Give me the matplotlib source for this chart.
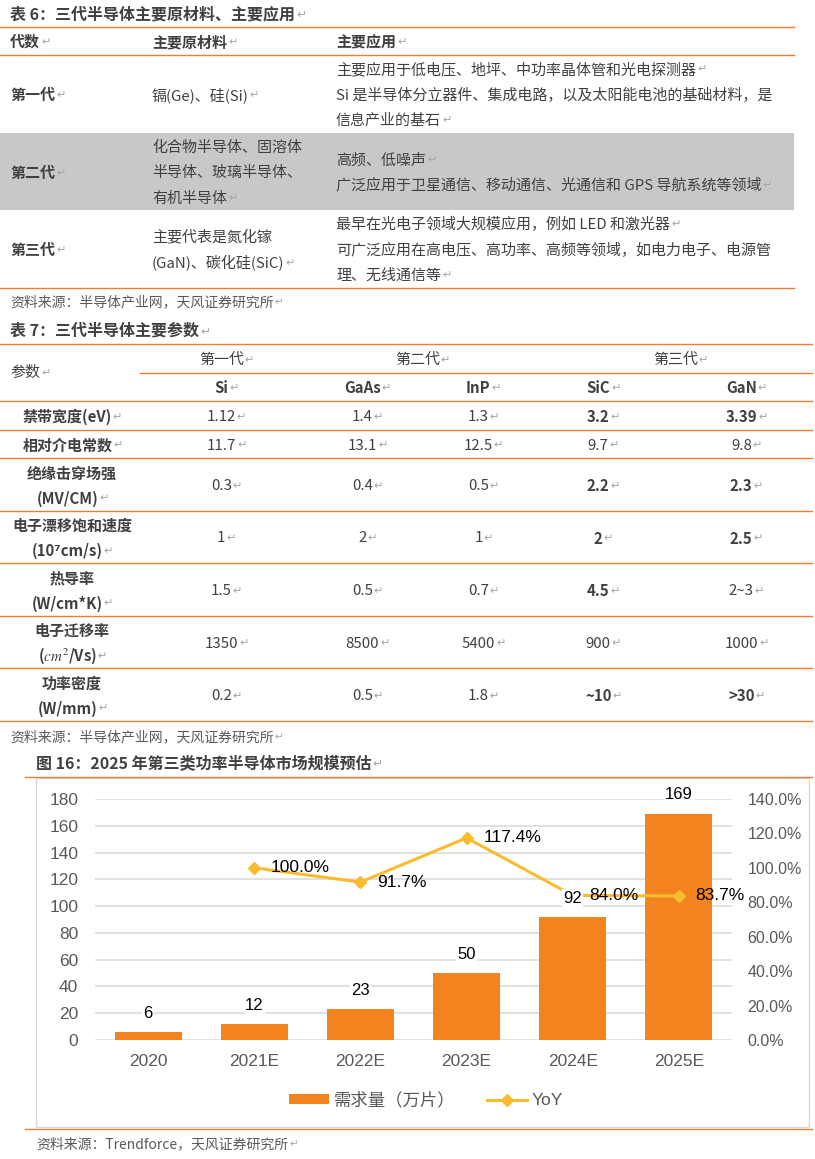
import matplotlib
matplotlib.use("Agg")
import matplotlib.pyplot as plt
import numpy as np
from matplotlib.transforms import Affine2D
from matplotlib.patches import Rectangle
from matplotlib.lines import Line2D

plt.rcParams['font.family'] = ['Noto Sans CJK SC', 'DejaVu Sans']
plt.rcParams['mathtext.fontset'] = 'stix'

# ---- table 6 ----
t6_title = "表 6：三代半导体主要原材料、主要应用↵"
t6_header = ["代数↵", "主要原材料↵", "主要应用↵"]
t6_gen = ["第一代↵", "第二代↵", "第三代↵"]
t6_material = [
    ["镉(Ge)、硅(Si)↵"],
    ["化合物半导体、固溶体", "半导体、玻璃半导体、", "有机半导体↵"],
    ["主要代表是氮化镓", "(GaN)、碳化硅(SiC)↵"],
]
t6_use = [
    ["主要应用于低电压、地坪、中功率晶体管和光电探测器↵",
     "Si 是半导体分立器件、集成电路，以及太阳能电池的基础材料，是",
     "信息产业的基石↵"],
    ["高频、低噪声↵",
     "广泛应用于卫星通信、移动通信、光通信和 GPS 导航系统等领域↵"],
    ["最早在光电子领域大规模应用，例如 LED 和激光器↵",
     "可广泛应用在高电压、高功率、高频等领域，如电力电子、电源管",
     "理、无线通信等↵"],
]
t6_source = "资料来源：半导体产业网，天风证券研究所↵"

# ---- table 7 ----
t7_title = "表 7：三代半导体主要参数↵"
t7_corner = "参数↵"
t7_gens = ["第一代↵", "第二代↵", "第三代↵"]
t7_materials = ["Si↵", "GaAs↵", "InP↵", "SiC↵", "GaN↵"]
t7_params = [
    ["禁带宽度(eV)↵"],
    ["相对介电常数↵"],
    ["绝缘击穿场强", "(MV/CM)↵"],
    ["电子漂移饱和速度", "(10⁷cm/s)↵"],
    ["热导率", "(W/cm*K)↵"],
    ["电子迁移率", "($cm^2$/Vs)↵"],
    ["功率密度", "(W/mm)↵"],
]
val_si = ["1.12", "11.7", "0.3", "1", "1.5", "1350", "0.2"]
val_gaas = ["1.4", "13.1", "0.4", "2", "0.5", "8500", "0.5"]
val_inp = ["1.3", "12.5", "0.5", "1", "0.7", "5400", "1.8"]
val_sic = ["3.2", "9.7", "2.2", "2", "4.5", "900", "~10"]
val_gan = ["3.39", "9.8", "2.3", "2.5", "2~3", "1000", ">30"]
bold_sic = [1, 0, 1, 1, 1, 0, 1]
bold_gan = [1, 0, 1, 1, 0, 0, 1]

# ---- chart ----
chart_title = "图 16：2025 年第三类功率半导体市场规模预估↵"
years = ["2020", "2021E", "2022E", "2023E", "2024E", "2025E"]
demand = [6, 12, 23, 50, 92, 169]
yoy = [np.nan, 100.0, 91.7, 117.4, 84.0, 83.7]
chart_source = "资料来源：Trendforce，天风证券研究所↵"

W, H = 815, 1159
fig = plt.figure(figsize=(W / 100, H / 100), dpi=100)
px = Affine2D().scale(1 / W, -1 / H).translate(0, 1) + fig.transFigure
renderer = fig.canvas.get_renderer()

TXT = '#404040'
SRC = '#595959'
ORANGE = '#EE7D33'
MARK = '#A6A6A6'
BAR = '#F3831F'
LINE = '#F9BC2F'


def put(x, y, s, size=10.8, weight='normal', color=TXT, ha='left'):
    mark = s.endswith('↵')
    s = s.rstrip('↵')
    t = fig.text(x, y, s, transform=px, fontsize=size, fontweight=weight,
                 color=color, va='center', ha='left')
    w = t.get_window_extent(renderer).width
    mw = 0
    if mark:
        m = fig.text(x, y, '↵', transform=px, fontsize=size * 0.75,
                     color=MARK, family='DejaVu Sans', va='center', ha='left')
        mw = m.get_window_extent(renderer).width
    left = x - (w + mw) / 2 if ha == 'center' else x
    t.set_x(left)
    if mark:
        m.set_x(left + w + 1)


def hline(y, x0, x1, color=ORANGE, lw=1.0):
    fig.add_artist(Line2D([x0, x1], [y, y], transform=px, color=color, lw=lw))


def lines_at(c, n, step):
    return [c + (i - (n - 1) / 2) * step for i in range(n)]


# ================= table 6 =================
put(10, 14, t6_title, size=11.5, weight='bold')
hline(27, 0, 794)
for x, s in zip([10, 152, 336], t6_header):
    put(x, 42, s, weight='bold')
hline(55, 0, 794)
fig.add_artist(Rectangle((0, 133), 794, 77, transform=px,
                         facecolor='#C8C8C8', edgecolor='none', zorder=0))
row_c = [95, 173, 250]
for i, c in enumerate(row_c):
    put(10, c, t6_gen[i], weight='bold')
    mat = t6_material[i]
    for y, s in zip(lines_at(c, len(mat), 25.5), mat):
        put(152, y, s)
    use = t6_use[i]
    for y, s in zip(lines_at(c, len(use), 25.5 if len(use) == 3 else 25), use):
        put(336, y, s)
hline(288, 0, 794)
put(10, 302, t6_source, size=10, color=SRC)

# ================= table 7 =================
put(10, 331, t7_title, size=11.5, weight='bold')
hline(344, 0, 812)
put(10, 373, t7_corner)
col_x = [226, 367, 483, 603, 746]
gen_x = [226, 422, 680]
for x, s in zip(gen_x, t7_gens):
    put(x, 360, s, ha='center')
hline(373, 140, 812)
for x, s in zip(col_x, t7_materials):
    put(x, 388, s, weight='bold', ha='center')
bounds = [401, 430, 458, 511, 563, 616, 668, 721]
for b in bounds:
    hline(b, 0, 812)
cols = [val_si, val_gaas, val_inp, val_sic, val_gan]
bolds = [[0] * 7, [0] * 7, [0] * 7, bold_sic, bold_gan]
for r in range(len(t7_params)):
    c = (bounds[r] + bounds[r + 1]) / 2 + 1.5
    lab = t7_params[r]
    for y, s in zip(lines_at(c, len(lab), 25), lab):
        put(72, y, s, weight='bold', ha='center')
    for j in range(5):
        put(col_x[j], c, cols[j][r] + "↵",
            weight='bold' if bolds[j][r] else 'normal', ha='center')
put(10, 737, t6_source, size=10, color=SRC)

# ================= chart =================
put(36, 763, chart_title, size=11.5, weight='bold')
hline(777, 25, 812)
fig.add_artist(Rectangle((36, 778), 773, 349, transform=px,
                         facecolor='none', edgecolor='#D9D9D9', lw=1.0))
hline(1129, 25, 812)
put(36, 1144, chart_source, size=10, color=SRC)

ax = fig.add_axes([95 / W, (H - 1040) / H, 637 / W, 241 / H])
x = np.arange(len(years))
bars = ax.bar(x, demand, width=0.63, color=BAR, zorder=2, label='需求量（万片）')
ax.set_xlim(-0.5, len(years) - 0.5)
ax.set_ylim(0, 180)
ax.set_yticks(range(0, 181, 20))
ax.yaxis.grid(True, color='#D9D9D9', lw=1.1, zorder=0)
ax.set_axisbelow(True)
for sp in ax.spines.values():
    sp.set_visible(False)
ax.set_xticks(x)
ax.set_xticklabels(years)
ax.tick_params(length=0, labelcolor=SRC, labelsize=12.5)
ax.tick_params(axis='y', pad=12)
ax.tick_params(axis='x', pad=10)
for lbl in ax.get_xticklabels() + ax.get_yticklabels():
    lbl.set_family('Liberation Sans')

ax2 = ax.twinx()
ax2.set_ylim(0, 140)
ax2.set_yticks(range(0, 141, 20))
ax2.set_yticklabels([f"{v:.1f}%" for v in range(0, 141, 20)])
for sp in ax2.spines.values():
    sp.set_visible(False)
ax2.tick_params(length=0, labelcolor=SRC, labelsize=11.5, pad=11)
for lbl in ax2.get_yticklabels():
    lbl.set_family('Liberation Sans')
line, = ax2.plot(x, yoy, color=LINE, lw=2.2, marker='D', markersize=6.3,
                 label='YoY', zorder=2)
for xi, v in zip(x, yoy):
    if not np.isnan(v):
        ax2.annotate(f"{v:.1f}%", (xi, v), xytext=(12, 0),
                     textcoords='offset points', ha='left', va='center',
                     fontsize=12.5, color='black', family='Liberation Sans',
                     zorder=3)
# bar value labels sit on top of everything, with a white backing
for xi, v in zip(x, demand):
    ax2.annotate(str(v), (xi, v), xycoords=ax.transData, xytext=(0, 13.5),
                 textcoords='offset points', ha='center', va='center',
                 fontsize=12, color='black', family='Liberation Sans',
                 zorder=4,
                 bbox=dict(boxstyle='square,pad=0.08', fc='white', ec='none'))

leg = ax2.legend([bars, line], ['需求量（万片）', 'YoY'], loc='center',
                 bbox_to_anchor=(426, 1100), bbox_transform=px, ncol=2,
                 frameon=False, handlelength=2.3,
                 handleheight=0.46, handletextpad=0.25, columnspacing=1.85,
                 prop={'family': ['Liberation Sans', 'Noto Sans CJK SC'],
                       'size': 12.5})
for t in leg.get_texts():
    t.set_color(SRC)

fig.savefig("out.png", dpi=100)
